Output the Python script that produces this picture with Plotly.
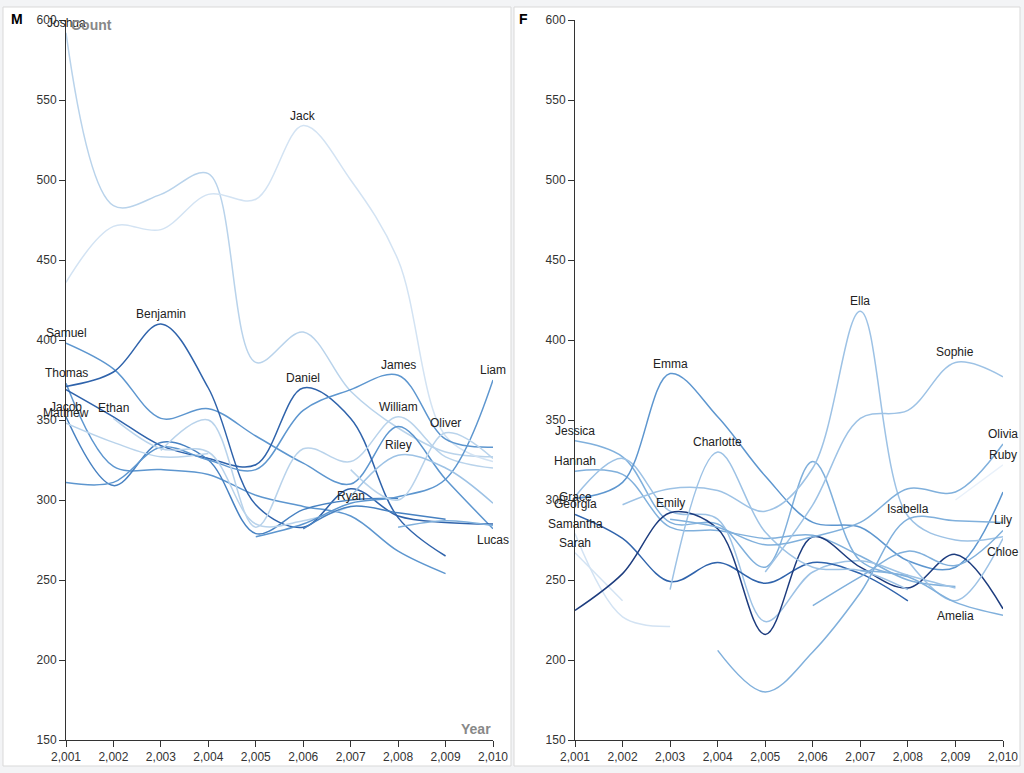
import plotly.graph_objects as go

# ---- data ----
YEARS = [2001, 2002, 2003, 2004, 2005, 2006, 2007, 2008, 2009, 2010]
N = None

# boys (panel M)
JOSHUA   = [592, 484, 491, 504, 386, 405, 368, 345, 330, 327]
JACK     = [436, 471, 469, 491, 488, 534, 500, 450, 340, 324]
SAMUEL   = [398, 382, 351, 357, 340, 323, 310, 346, 313, 282]
THOMAS   = [373, 321, 319, 316, 303, 296, 290, 268, 254, N]
BENJAMIN = [371, 380, 410, 370, 297, 283, 307, 290, 286, 285]
DANIEL   = [369, 352, 334, 326, 322, 370, 351, 289, 265, N]
JACOB    = [352, 309, 336, 325, 279, 294, 300, 301, N, N]
MATTHEW  = [348, 336, 327, 329, N, N, N, N, N, N]
JAMES    = [311, 311, 333, 325, 319, 356, 369, 378, 338, 333]
ETHAN    = [N, 351, 332, 330, 285, 287, 296, N, N, N]
WILLIAM  = [N, N, 331, 350, 283, 332, 324, 352, 327, 320]
LIAM     = [N, N, N, N, 277, 285, 298, 302, 313, 375]
OLIVER   = [N, N, N, N, N, N, 319, 300, 342, 326]
RILEY    = [N, N, N, N, N, N, 302, 328, 320, 298]
RYAN     = [N, N, N, N, N, 282, 296, 292, 288, N]
LUCAS    = [N, N, N, N, N, N, N, 283, 287, 284]

# girls (panel F)
JESSICA   = [337, 327, 286, 285, 258, 324, 262, 253, N, N]
HANNAH    = [318, 316, 283, 281, 276, 278, 265, 250, 246, N]
GRACE     = [302, 326, 293, 288, 224, 255, 262, 253, 245, N]
GEORGIA   = [291, 276, 249, 261, 248, 261, 254, 237, N, N]
SAMANTHA  = [279, 227, 221, N, N, N, N, N, N, N]
SARAH     = [267, 237, N, N, N, N, N, N, N, N]
EMMA      = [301, 311, 379, 352, 315, 286, 283, 262, 258, 305]
EMILY     = [231, 254, 292, 282, 216, 277, 258, 245, 266, 232]
CHARLOTTE = [N, N, 244, 330, 280, 258, 256, 244, N, N]
ELLA      = [N, 297, 307, 306, 293, 320, 418, 290, 275, 277]
SOPHIE    = [N, N, N, N, 255, 297, 351, 356, 386, 377]
OLIVIA    = [N, N, 288, 283, 272, 277, 286, 307, 305, 335]
RUBY      = [N, N, N, N, N, N, N, N, 300, 322]
ISABELLA  = [N, N, N, 206, 180, 205, 242, 288, 287, 286]
LILY      = [N, N, N, N, N, 234, 252, 268, 259, 281]
CHLOE     = [N, N, N, N, N, N, N, 262, 237, 276]
AMELIA    = [N, N, N, N, N, N, 256, 252, 236, 228]

BOYS = [("Joshua", JOSHUA), ("Jack", JACK), ("Samuel", SAMUEL), ("Thomas", THOMAS),
        ("Benjamin", BENJAMIN), ("Daniel", DANIEL), ("Jacob", JACOB), ("Matthew", MATTHEW),
        ("James", JAMES), ("Ethan", ETHAN), ("William", WILLIAM), ("Liam", LIAM),
        ("Oliver", OLIVER), ("Riley", RILEY), ("Ryan", RYAN), ("Lucas", LUCAS)]
GIRLS = [("Jessica", JESSICA), ("Hannah", HANNAH), ("Grace", GRACE), ("Georgia", GEORGIA),
         ("Samantha", SAMANTHA), ("Sarah", SARAH), ("Emma", EMMA), ("Emily", EMILY),
         ("Charlotte", CHARLOTTE), ("Ella", ELLA), ("Sophie", SOPHIE), ("Olivia", OLIVIA),
         ("Ruby", RUBY), ("Isabella", ISABELLA), ("Lily", LILY), ("Chloe", CHLOE),
         ("Amelia", AMELIA)]

# ---- styling ----
BLUES = ["#e9f1fa", "#d3e3f3", "#b9d3eb", "#9dc2e5", "#80b0dc",
         "#5d96cf", "#4781c1", "#2f63ab", "#1d3c7e"]
SHADE = {
    "Joshua": 2, "Jack": 1, "Samuel": 5, "Thomas": 5, "Benjamin": 7, "Daniel": 7,
    "Jacob": 6, "Matthew": 2, "James": 5, "Ethan": 2, "William": 2, "Liam": 5,
    "Oliver": 2, "Riley": 3, "Ryan": 6, "Lucas": 4,
    "Jessica": 4, "Hannah": 4, "Grace": 3, "Georgia": 7, "Samantha": 1, "Sarah": 1,
    "Emma": 5, "Emily": 8, "Charlotte": 3, "Ella": 3, "Sophie": 3, "Olivia": 4,
    "Ruby": 0, "Isabella": 4, "Lily": 4, "Chloe": 3, "Amelia": 4,
}
# labels sit above each name's peak; these are pinned to a year (with a pixel nudge)
LABEL_AT = {"Lucas": (2010, -14), "Chloe": (2010, -14), "Amelia": (2009, -14),
            "Grace": (2001, 0)}

FONT = "Liberation Sans, Arial, Helvetica, sans-serif"
W, H = 1024, 773


def px(v, total):
    return v / total


fig = go.Figure()
annotations = []


def add_panel(series, xa, ya):
    for name, vals in series:
        fig.add_trace(go.Scatter(
            x=YEARS, y=vals, mode="lines", name=name, xaxis=xa, yaxis=ya,
            line=dict(color=BLUES[SHADE[name]], width=1.5, shape="spline", smoothing=1.0),
            connectgaps=False, showlegend=False,
            hovertemplate=name + " %{x}: %{y}<extra></extra>",
        ))
        pts = [(y, v) for y, v in zip(YEARS, vals) if v is not None]
        if name in LABEL_AT:
            yr, shift = LABEL_AT[name]
            v = dict(pts)[yr]
        else:
            yr, v = max(pts, key=lambda p: p[1])
            shift = 10
        annotations.append(dict(
            x=yr, y=v, xref=xa, yref=ya, text=name, showarrow=False,
            yshift=shift, font=dict(size=12, color="#222", family=FONT),
        ))


add_panel(BOYS, "x", "y")
add_panel(GIRLS, "x2", "y2")

axis_common = dict(
    showgrid=False, zeroline=False, showline=True, linecolor="#333", linewidth=1,
    ticks="outside", ticklen=6, tickcolor="#333", automargin=False,
    tickfont=dict(size=12, color="#333", family=FONT),
)
y_dom = [1 - 740 / H, 1 - 20 / H]

fig.update_layout(
    width=W, height=H, margin=dict(l=0, r=0, t=0, b=0, autoexpand=False),
    paper_bgcolor="#f3f4f6", plot_bgcolor="rgba(0,0,0,0)",
    font=dict(family=FONT),
    xaxis=dict(domain=[px(66, W), px(493, W)], range=[2001, 2010], dtick=1,
               tickformat=",d", anchor="y", **axis_common),
    yaxis=dict(domain=y_dom, range=[150, 600], dtick=50, anchor="x", **axis_common),
    xaxis2=dict(domain=[px(575, W), px(1003, W)], range=[2001, 2010], dtick=1,
                tickformat=",d", anchor="y2", **axis_common),
    yaxis2=dict(domain=y_dom, range=[150, 600], dtick=50, anchor="x2", **axis_common),
    shapes=[
        dict(type="rect", xref="paper", yref="paper", layer="below",
             x0=px(3, W), x1=px(511, W), y0=1 - 766 / H, y1=1 - 7 / H,
             fillcolor="white", line=dict(color="#d9d9d9", width=1)),
        dict(type="rect", xref="paper", yref="paper", layer="below",
             x0=px(514, W), x1=px(1020, W), y0=1 - 766 / H, y1=1 - 7 / H,
             fillcolor="white", line=dict(color="#d9d9d9", width=1)),
    ],
)

annotations += [
    dict(text="<b>M</b>", x=px(9, W), y=1 - 19 / H, xref="paper", yref="paper",
         xanchor="left", yanchor="middle", showarrow=False,
         font=dict(size=14, color="#000", family=FONT)),
    dict(text="<b>F</b>", x=px(517, W), y=1 - 19 / H, xref="paper", yref="paper",
         xanchor="left", yanchor="middle", showarrow=False,
         font=dict(size=14, color="#000", family=FONT)),
    dict(text="<b>Count</b>", x=px(69, W), y=1 - 25 / H, xref="paper", yref="paper",
         xanchor="left", yanchor="middle", showarrow=False,
         font=dict(size=14, color="#888", family=FONT)),
    dict(text="<b>Year</b>", x=px(493, W), y=1 - 729 / H, xref="paper", yref="paper",
         xanchor="right", yanchor="middle", showarrow=False,
         font=dict(size=14, color="#888", family=FONT)),
]
fig.update_layout(annotations=annotations)

fig.write_html(
    "out.html",
    config={"displayModeBar": False},
    post_script="document.body.style.margin='0';document.body.style.overflow='hidden';",
)
